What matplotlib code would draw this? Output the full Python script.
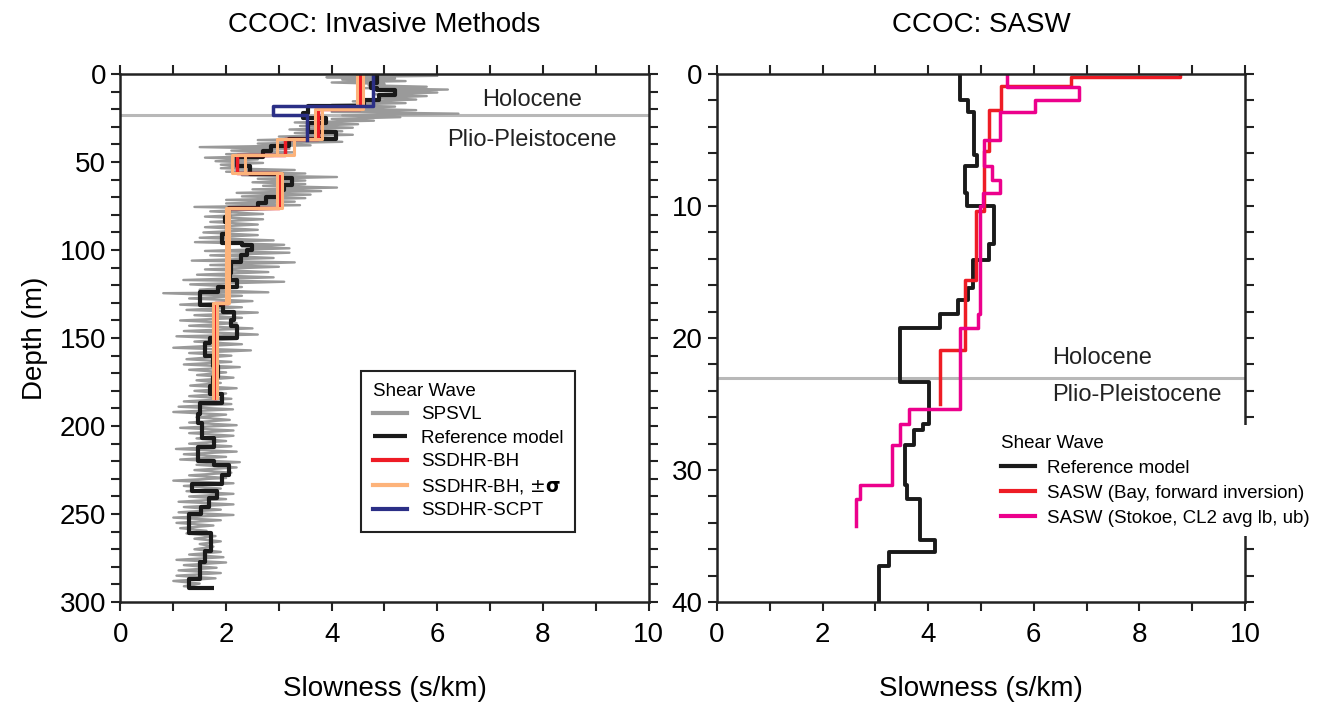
import numpy as np
import matplotlib.pyplot as plt
from matplotlib.ticker import MultipleLocator

plt.rcParams['font.family'] = ['Liberation Sans', 'DejaVu Sans']

# SPSVL suspension log, zig-zag vertices as (depth m, slowness s/km)
spsvl = [
    (0.5, 4.6), (1.0, 6.0), (1.8, 3.9), (2.5, 5.2), (3.2, 4.2), (4.0, 5.4), (4.8, 4.0),
    (5.6, 5.0), (6.4, 4.7), (7.2, 5.8), (8.0, 4.6), (8.8, 6.2), (9.6, 5.0), (10.5, 6.0),
    (11.5, 4.8), (12.5, 5.8), (13.5, 4.9), (14.5, 5.6), (15.5, 4.4), (16.5, 5.4), (17.5, 4.0),
    (18.5, 5.2), (19.5, 4.2), (20.5, 5.6), (21.5, 4.0), (22.5, 6.4), (23.5, 4.2), (24.5, 5.3),
    (25.5, 4.0), (26.5, 4.8), (27.5, 3.3), (28.5, 4.5), (29.5, 3.4), (30.5, 4.4), (31.5, 3.2),
    (32.5, 4.2), (33.5, 3.3), (34.5, 4.4), (35.5, 3.0), (36.5, 4.0), (37.5, 2.6), (38.5, 4.2),
    (39.5, 2.6), (40.5, 3.6), (41.5, 1.5), (42.5, 3.2), (43.5, 2.1), (44.5, 3.3), (45.5, 2.0),
    (46.5, 2.9), (47.5, 1.6), (48.5, 2.6), (49.5, 1.8), (50.5, 2.7), (51.5, 1.9), (52.5, 2.4),
    (53.5, 1.9), (54.5, 3.3), (55.5, 2.0), (56.5, 3.5), (57.5, 2.3), (58.5, 4.1), (59.5, 2.6),
    (60.5, 3.5), (61.5, 2.5), (62.5, 3.5), (63.5, 2.7), (64.5, 4.1), (65.5, 2.5), (66.5, 3.8),
    (67.5, 2.2), (68.5, 3.6), (69.5, 2.3), (70.5, 3.5), (71.5, 2.0), (72.5, 3.3), (73.5, 2.0),
    (74.5, 3.4), (75.5, 1.4), (76.5, 3.0), (78.0, 1.7), (79.5, 2.7), (81.0, 1.6), (82.5, 2.7),
    (84.0, 1.7), (85.5, 2.6), (87.0, 1.6), (88.5, 2.6), (90.0, 1.57), (91.5, 2.6), (93.0, 1.5),
    (94.5, 2.9), (95.5, 1.41), (97.0, 3.1), (98.0, 2.3), (99.0, 3.2), (100.5, 1.6), (101.5, 3.2),
    (103.0, 1.7), (104.5, 2.9), (106.0, 1.35), (107.0, 3.3), (108.5, 1.7), (109.5, 3.0),
    (111.0, 1.6), (112.5, 2.8), (114.0, 1.45), (115.5, 2.9), (117.0, 1.19), (118.0, 3.1),
    (119.5, 1.32), (121.0, 2.3), (122.5, 1.5), (124.0, 2.8), (124.5, 0.81), (126.0, 2.3),
    (127.5, 1.3), (129.0, 2.5), (131.0, 1.13), (132.5, 2.3), (134.0, 1.25), (135.5, 2.6),
    (137.0, 1.4), (138.5, 2.3), (140.0, 1.13), (141.5, 2.2), (143.0, 1.3), (144.5, 2.5),
    (146.0, 1.2), (148.0, 2.6), (149.0, 1.06), (150.5, 2.2), (152.0, 1.4), (153.5, 2.3),
    (155.5, 1.0), (157.0, 2.47), (158.5, 1.3), (160.0, 2.1), (162.0, 1.25), (163.5, 2.1),
    (165.0, 1.2), (166.5, 2.26), (168.0, 1.3), (169.5, 2.0), (171.0, 1.45), (172.5, 2.14),
    (174.0, 1.44), (175.5, 1.9), (177.0, 1.32), (178.5, 2.2), (180.0, 1.4), (181.5, 2.0),
    (183.0, 1.3), (184.5, 2.1), (186.0, 1.2), (187.5, 2.1), (189.0, 1.1), (190.5, 2.13),
    (192.0, 1.0), (193.5, 2.0), (195.0, 1.44), (196.5, 2.07), (198.0, 1.3), (199.5, 2.2),
    (201.0, 1.13), (202.5, 2.14), (204.0, 1.3), (205.5, 2.14), (207.0, 1.44), (208.5, 2.0),
    (210.0, 1.3), (211.5, 2.1), (213.0, 1.05), (214.5, 2.2), (216.0, 1.2), (217.5, 2.0),
    (219.0, 1.13), (220.5, 2.26), (222.0, 1.44), (223.5, 2.2), (225.0, 1.4), (226.5, 2.1),
    (228.0, 1.3), (229.5, 2.0), (231.0, 1.0), (232.5, 2.14), (234.0, 1.2), (235.5, 1.9),
    (237.0, 1.25), (238.5, 2.14), (240.0, 1.3), (241.5, 2.0), (243.0, 1.1), (244.5, 2.14),
    (246.0, 1.2), (247.5, 1.9), (249.0, 1.1), (250.5, 2.14), (252.0, 1.0), (253.5, 1.9),
    (255.0, 1.06), (256.5, 1.76), (258.0, 1.13), (259.5, 1.63), (261.0, 1.25), (262.5, 1.8),
    (264.0, 1.4), (265.5, 1.9), (267.0, 1.5), (268.5, 1.76), (270.0, 1.4), (271.5, 1.9),
    (273.0, 1.3), (274.5, 1.95), (276.0, 1.06), (277.5, 2.0), (279.0, 1.2), (280.5, 1.82),
    (282.0, 1.1), (283.5, 1.9), (285.0, 1.06), (286.5, 1.8), (288.0, 1.0), (289.5, 1.5),
    (291.0, 1.2), (292.0, 1.7),
]

# reference model (left panel): layer tops (m) and slowness (s/km)
ref_tops = [0, 5, 8, 9, 12, 15, 18, 22, 25, 28, 33, 37, 41, 44, 47, 52, 54, 57, 59, 63,
            66, 70, 73, 76, 81, 84, 91, 96, 97, 100, 103, 107, 113, 117, 121, 124, 131,
            135, 140, 143, 150, 153, 160, 166, 172, 177, 182, 187, 193, 198, 207, 212,
            220, 222, 228, 233, 237, 241, 246, 250, 261, 271, 277, 287, 292]
ref_slow = [4.86, 4.74, 4.86, 5.2, 4.9, 4.62, 3.55, 3.46, 3.9, 3.55, 4.09, 3.2, 2.85,
            2.7, 2.2, 2.45, 2.45, 3.05, 3.25, 3.1, 3.0, 2.75, 2.6, 2.05, 1.98, 2.02, 1.92,
            2.3, 2.5, 2.4, 2.28, 2.1, 2.08, 2.2, 1.85, 1.5, 1.95, 2.15, 2.1, 2.2, 1.7, 1.6,
            1.75, 1.85, 1.75, 1.7, 1.92, 1.5, 1.47, 1.55, 1.77, 1.46, 1.77, 2.05, 1.92,
            1.35, 1.82, 1.68, 1.52, 1.3, 1.72, 1.6, 1.5, 1.3, 1.78]
ref_bottom = 292

# SSDHR downhole (borehole) model with +/- sigma bounds
bh_tops = [0, 20, 37, 46, 56, 76, 130]
bh_slow = [4.54, 3.75, 3.12, 2.21, 3.0, 2.03, 1.79]
bh_lo = [4.48, 3.68, 2.96, 2.12, 2.96, 2.0, 1.76]
bh_hi = [4.60, 3.82, 3.28, 2.36, 3.05, 2.06, 1.82]
bh_bottom = 184

# SSDHR seismic cone
scpt_tops = [0, 18.4, 23.5]
scpt_slow = [4.78, 2.89, 3.53]
scpt_bottom = 37.3

# right panel: reference model (top 40 m)
ref2_tops = [0, 2, 2.9, 6.1, 7.0, 9.0, 10.0, 12.9, 14.1, 16.2, 17.1, 18.2, 19.2, 23.3,
             26.5, 27.0, 28.1, 31.1, 32.2, 35.3, 36.2, 37.3]
ref2_slow = [4.60, 4.75, 4.87, 4.92, 4.70, 4.74, 5.24, 5.16, 4.85, 4.75, 4.57, 4.23, 3.47,
             4.02, 3.90, 3.74, 3.57, 3.59, 3.84, 4.13, 3.25, 3.06]
ref2_bottom = 40

# SASW, Bay forward inversion
bay_tops = [0, 0.25, 0.9, 2.7, 5.8, 10.4, 15.6, 20.9]
bay_slow = [8.77, 6.71, 5.38, 5.16, 5.05, 4.90, 4.69, 4.23]
bay_bottom = 25.0

# SASW, Stokoe CL2 average
stokoe_tops = [0, 1.0, 2.0, 2.9, 5.0, 7.0, 8.0, 9.0, 10.0, 18.2, 19.2, 25.4, 26.5, 28.1,
               31.1, 32.2]
stokoe_slow = [5.49, 6.85, 6.03, 5.36, 5.05, 5.21, 5.36, 5.04, 4.98, 4.95, 4.61, 3.64, 3.47,
               3.32, 2.70, 2.63]
stokoe_bottom = 34.2

holocene_base = 23


def steps(tops, vals, bottom):
    # turn layer tops/values into a staircase profile
    edges = list(tops[1:]) + [bottom]
    x = np.repeat(vals, 2)
    y = np.column_stack([tops, edges]).ravel()
    return x, y


def style(ax, ymax, ymaj, ymin):
    ax.set_xlim(0, 10)
    ax.set_ylim(ymax, 0)
    ax.xaxis.set_major_locator(MultipleLocator(2))
    ax.xaxis.set_minor_locator(MultipleLocator(1))
    ax.yaxis.set_major_locator(MultipleLocator(ymaj))
    ax.yaxis.set_minor_locator(MultipleLocator(ymin))
    ax.tick_params(which='both', direction='out', top=True, right=True,
                   length=6.5, width=1.5, labelsize=20, color='#222222')
    ax.tick_params(axis='x', pad=8)
    ax.tick_params(axis='y', pad=4)
    for s in ax.spines.values():
        s.set_linewidth(1.8)
        s.set_color('#222222')
    ax.set_xlabel('Slowness (s/km)', fontsize=20, labelpad=20)


fig = plt.figure(figsize=(13.27, 7.10), dpi=100)
ax1 = fig.add_axes([0.0908, 0.152, 0.3979, 0.7437])
ax2 = fig.add_axes([0.5403, 0.152, 0.3979, 0.7437])

RED = '#ee1c25'
ORANGE = '#fdb37a'
NAVY = '#2b2f86'
PINK = '#ec008c'
GRAY = '#9a9a9a'
BLACK = '#1a1a1a'

# left panel: invasive methods
sp = np.array(spsvl)
ax1.axhline(holocene_base, color='#b8b8b8', lw=2.2, zorder=1)
ax1.plot(sp[:, 1], sp[:, 0], color=GRAY, lw=1.7, label='SPSVL')
x, y = steps(ref_tops, ref_slow, ref_bottom)
ax1.plot(x, y, color=BLACK, lw=3, label='Reference model', solid_capstyle='butt')
x, y = steps(bh_tops, bh_slow, bh_bottom)
ax1.plot(x, y, color=RED, lw=2.5, label='SSDHR-BH')
x, y = steps(bh_tops, bh_lo, bh_bottom)
ax1.plot(x, y, color=ORANGE, lw=2.2, label='SSDHR-BH, $\\pm\\mathbf{\\sigma}$')
x, y = steps(bh_tops, bh_hi, bh_bottom)
ax1.plot(x, y, color=ORANGE, lw=2.2)
x, y = steps(scpt_tops, scpt_slow, scpt_bottom)
ax1.plot(x, y, color=NAVY, lw=2.5, label='SSDHR-SCPT')

style(ax1, 300, 50, 10)
ax1.set_ylabel('Depth (m)', fontsize=20, labelpad=8)
ax1.set_title('CCOC: Invasive Methods', fontsize=20, pad=30)
ax1.text(7.8, 14.5, 'Holocene', ha='center', va='center', fontsize=17, color='#222222')
ax1.text(7.8, 37.5, 'Plio-Pleistocene', ha='center', va='center', fontsize=17, color='#222222')

leg1 = ax1.legend(loc='upper left', bbox_to_anchor=(0.455, 0.438), borderaxespad=0,
                  title='Shear Wave', alignment='left', fontsize=13.5, title_fontsize=13.5,
                  handlelength=1.8, handletextpad=0.75, labelspacing=0.34,
                  borderpad=0.65, fancybox=False, framealpha=1, edgecolor='#222222')
leg1.get_frame().set_linewidth(1.5)
for h in leg1.legend_handles:
    h.set_linewidth(3)

# right panel: SASW
ax2.axhline(holocene_base, color='#b8b8b8', lw=2.2, zorder=1)
x, y = steps(ref2_tops, ref2_slow, ref2_bottom)
ax2.plot(x, y, color=BLACK, lw=2.8, label='Reference model')
x, y = steps(bay_tops, bay_slow, bay_bottom)
ax2.plot(x, y, color=RED, lw=2.5, label='SASW (Bay, forward inversion)')
x, y = steps(stokoe_tops, stokoe_slow, stokoe_bottom)
ax2.plot(x, y, color=PINK, lw=2.5, label='SASW (Stokoe, CL2 avg lb, ub)')

style(ax2, 40, 10, 2)
ax2.set_title('CCOC: SASW', fontsize=20, pad=30)
ax2.text(6.34, 21.5, 'Holocene', ha='left', va='center', fontsize=17, color='#222222')
ax2.text(6.34, 24.3, 'Plio-Pleistocene', ha='left', va='center', fontsize=17, color='#222222')

leg2 = ax2.legend(loc='upper left', bbox_to_anchor=(0.52, 0.335), borderaxespad=0,
                  title='Shear Wave', alignment='left', fontsize=13.5, title_fontsize=13.5,
                  handlelength=1.8, handletextpad=0.65, labelspacing=0.42,
                  borderpad=0.5, fancybox=False, framealpha=1, edgecolor='none')
for h in leg2.legend_handles:
    h.set_linewidth(3)

fig.savefig('out.png', dpi=100)
